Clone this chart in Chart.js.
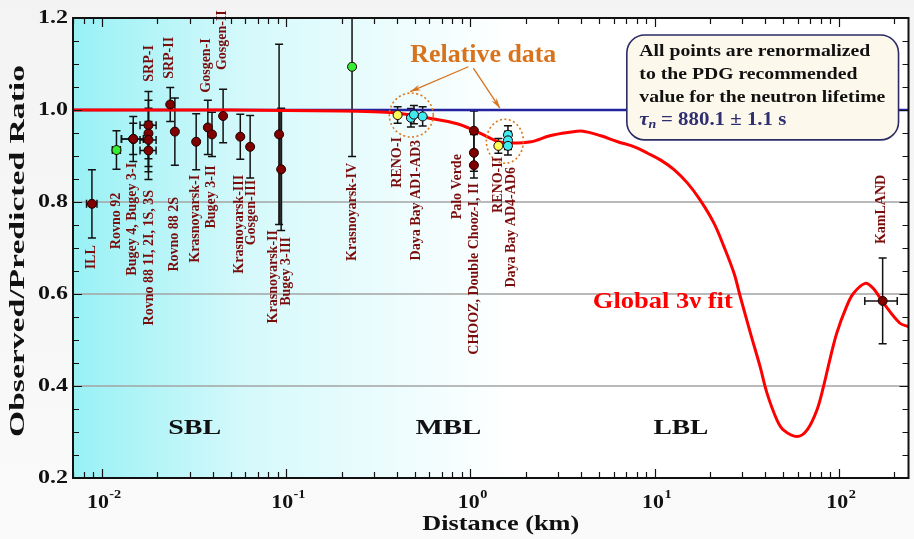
<!DOCTYPE html>
<html>
<head>
<meta charset="utf-8">
<script src="https://cdn.jsdelivr.net/npm/chart.js@4.4.1/dist/chart.umd.min.js"></script>
<style>
html, body { margin: 0; padding: 0; background: #f6f6f6; }
canvas { display: block; }
</style>
</head>
<body>
<canvas id="chart" width="914" height="539"></canvas>
<script>
// absolute flux measurements (dark red points)
const absDist  = [0.00883, 0.0148, 0.0148, 0.0179, 0.0179, 0.0179, 0.0179, 0.0235, 0.0249, 0.0325, 0.0376, 0.0396, 0.0455, 0.0564, 0.0638, 0.0916, 0.094, 1.046, 1.046, 1.046, 173];
const absRatio = [0.796, 0.937, 0.937, 0.967, 0.949, 0.935, 0.912, 1.012, 0.953, 0.931, 0.962, 0.947, 0.987, 0.942, 0.920, 0.947, 0.871, 0.955, 0.907, 0.880, 0.585];
const absErr   = [0.074, 0.034, 0.049, 0.073, 0.072, 0.069, 0.063, 0.037, 0.073, 0.061, 0.059, 0.048, 0.058, 0.049, 0.068, 0.196, 0.133, 0.043, 0.040, 0.028, 0.093];
const absXErr  = [0.065, 0.137, 0.137, 0.10, 0, 0.10, 0.10, 0, 0, 0, 0, 0, 0, 0, 0, 0, 0, 0, 0, 0, 0.20];

// Rovno 92 and Krasnoyarsk-IV (green)
const greenDist  = [0.0120, 0.228];
const greenRatio = [0.913, 1.094];
const greenErr   = [0.042, 0.195];
const greenXErr  = [0.05, 0];

// RENO relative data (yellow)
const renoDist  = [0.403, 1.42];
const renoRatio = [0.989, 0.922];
const renoErr   = [0.018, 0.016];

// Daya Bay relative data (cyan)
const dybDist  = [0.476, 0.494, 0.551, 1.60, 1.60, 1.60];
const dybRatio = [0.983, 0.990, 0.986, 0.946, 0.934, 0.922];
const dybErr   = [0.020, 0.020, 0.021, 0.020, 0.020, 0.020];

// global 3nu fit curve
const fitDist  = [0.00697, 0.05, 0.1, 0.2, 0.3, 0.408, 0.6, 0.848, 1.03, 1.25, 1.42, 1.67, 2.14, 2.7, 3.39, 4.08, 5.11, 6.31, 7.77, 9.17, 10.8, 12.8, 15.1, 17.7, 21.0, 23.8, 27.0, 29.2, 33.2, 37.4, 40.8, 46.2, 50.2, 59.3, 67.2, 76.1, 82.6, 89.4, 97.5, 110, 120, 139, 154, 175, 214, 239];
const fitRatio = [1.0, 1.0, 0.999, 0.998, 0.996, 0.993, 0.982, 0.970, 0.957, 0.941, 0.931, 0.928, 0.931, 0.944, 0.951, 0.954, 0.944, 0.931, 0.920, 0.906, 0.891, 0.870, 0.841, 0.804, 0.754, 0.703, 0.645, 0.594, 0.514, 0.442, 0.384, 0.326, 0.304, 0.290, 0.304, 0.348, 0.399, 0.457, 0.515, 0.572, 0.601, 0.623, 0.612, 0.580, 0.537, 0.529];

// experiment labels (vertical text), x in km, top of text in ratio units
const labelText = ['ILL', 'Rovno 92', 'Bugey 4, Bugey 3-I', 'Rovno 88 1I, 2I, 1S, 3S', 'SRP-I', 'SRP-II', 'Rovno 88 2S',
  'Krasnoyarsk-I', 'Gosgen-I', 'Gosgen-II', 'Bugey 3-II', 'Krasnoyarsk-III', 'Gosgen-III', 'Krasnoyarsk-II', 'Bugey 3-III',
  'Krasnoyarsk-IV', 'RENO-I', 'Daya Bay AD1-AD3', 'Palo Verde', 'CHOOZ, Double Chooz-I, II', 'RENO-II', 'Daya Bay AD4-AD6', 'KamLAND'];
const labelDist = [0.0088, 0.0120, 0.0147, 0.0180, 0.0180, 0.0233, 0.0248, 0.0323, 0.0370, 0.0451, 0.0394, 0.0557, 0.0647, 0.0851, 0.100,
  0.228, 0.403, 0.511, 0.846, 1.051, 1.417, 1.665, 170];
const labelTop = [0.706, 0.820, 0.885, 0.826, 1.141, 1.159, 0.811, 0.859, 1.156, 1.217, 0.880, 0.859, 0.848, 0.739, 0.724,
  0.885, 0.941, 0.935, 0.904, 0.841, 0.898, 0.876, 0.859];

const yTicks = [0.2, 0.4, 0.6, 0.8, 1.0, 1.2];
const yGrid = [0.4, 0.6, 0.8, 1.0];
const xDecades = [0.01, 0.1, 1, 10, 100];
const xExponents = ['-2', '-1', '0', '1', '2'];

const xMin = 0.00697, xMax = 239;
const serif = '"Liberation Serif", "DejaVu Serif", serif';
const labelRed = '#7a0c0c';

function pts(xs, ys) { return xs.map((x, i) => ({x: x, y: ys[i]})); }

function fitText(ctx, text, x, y, w, align) {
  const m = ctx.measureText(text).width;
  ctx.save();
  ctx.translate(x, y);
  ctx.scale(w / m, 1);
  ctx.textAlign = align || 'left';
  ctx.fillText(text, 0, 0);
  ctx.restore();
}

function vText(ctx, text, x, yTop) {
  ctx.save();
  ctx.translate(x, yTop);
  ctx.rotate(-Math.PI / 2);
  ctx.textAlign = 'right';
  ctx.textBaseline = 'middle';
  ctx.fillText(text, 0, 0);
  ctx.restore();
}

function drawErrors(ctx, xs, ys, errs, xerrs, sx, sy) {
  for (let i = 0; i < xs.length; i++) {
    const x = sx.getPixelForValue(xs[i]);
    const y0 = sy.getPixelForValue(ys[i] + errs[i]);
    const y1 = sy.getPixelForValue(ys[i] - errs[i]);
    const y = sy.getPixelForValue(ys[i]);
    ctx.beginPath();
    ctx.moveTo(x, y0); ctx.lineTo(x, y1);
    ctx.moveTo(x - 4, y0); ctx.lineTo(x + 4, y0);
    ctx.moveTo(x - 4, y1); ctx.lineTo(x + 4, y1);
    if (xerrs && xerrs[i] > 0) {
      const xa = sx.getPixelForValue(xs[i] * (1 - xerrs[i]));
      const xb = sx.getPixelForValue(xs[i] * (1 + xerrs[i]));
      ctx.moveTo(xa, y); ctx.lineTo(xb, y);
      ctx.moveTo(xa, y - 4); ctx.lineTo(xa, y + 4);
      ctx.moveTo(xb, y - 4); ctx.lineTo(xb, y + 4);
    }
    ctx.stroke();
  }
}

const decor = {
  id: 'decor',
  beforeDraw(chart) {
    const {ctx, chartArea: a} = chart;
    const sy = chart.scales.y;
    ctx.save();
    const bg = ctx.createLinearGradient(0, 0, 0, chart.height);
    bg.addColorStop(0, '#f3f3f3');
    bg.addColorStop(1, '#fafafa');
    ctx.fillStyle = bg;
    ctx.fillRect(0, 0, chart.width, chart.height);
    const g = ctx.createLinearGradient(a.left, 0, a.left + 440, 0);
    g.addColorStop(0, '#98f1f5');
    g.addColorStop(0.4, '#d6f9fb');
    g.addColorStop(1, '#ffffff');
    ctx.fillStyle = g;
    ctx.fillRect(a.left, a.top, a.right - a.left, a.bottom - a.top);
    ctx.strokeStyle = '#a3a3a3';
    ctx.lineWidth = 1.5;
    yGrid.forEach(v => {
      const y = sy.getPixelForValue(v);
      ctx.beginPath(); ctx.moveTo(a.left, y); ctx.lineTo(a.right, y); ctx.stroke();
    });
    ctx.restore();
  },
  beforeDatasetsDraw(chart) {
    const {ctx, chartArea: a} = chart;
    const sx = chart.scales.x, sy = chart.scales.y;
    ctx.save();
    ctx.beginPath();
    ctx.rect(a.left, a.top, a.right - a.left, a.bottom - a.top);
    ctx.clip();
    // overlapping Krasnoyarsk-II / Bugey 3-III bars look like a thick grey bar
    ctx.strokeStyle = '#555';
    ctx.lineWidth = 4;
    const kx = sx.getPixelForValue(0.093);
    ctx.beginPath();
    ctx.moveTo(kx, sy.getPixelForValue(1.004));
    ctx.lineTo(kx, sy.getPixelForValue(0.751));
    ctx.stroke();
    ctx.strokeStyle = '#111';
    ctx.lineWidth = 1.5;
    drawErrors(ctx, absDist, absRatio, absErr, absXErr, sx, sy);
    drawErrors(ctx, greenDist, greenRatio, greenErr, greenXErr, sx, sy);
    drawErrors(ctx, renoDist, renoRatio, renoErr, null, sx, sy);
    drawErrors(ctx, dybDist, dybRatio, dybErr, null, sx, sy);
    ctx.restore();
  },
  afterDatasetsDraw(chart) {
    const {ctx, chartArea: a} = chart;
    const sx = chart.scales.x, sy = chart.scales.y;
    const P = (x, y) => [sx.getPixelForValue(x), sy.getPixelForValue(y)];
    ctx.save();

    // dotted circles round the relative data
    ctx.strokeStyle = '#e07818';
    ctx.lineWidth = 1.6;
    ctx.setLineDash([2, 2.5]);
    let c = P(0.478, 0.989);
    ctx.beginPath(); ctx.ellipse(c[0], c[1], 22, 22, 0, 0, 2 * Math.PI); ctx.stroke();
    c = P(1.54, 0.932);
    ctx.beginPath(); ctx.ellipse(c[0], c[1], 18.5, 22, 0, 0, 2 * Math.PI); ctx.stroke();
    ctx.setLineDash([]);

    // arrows
    ctx.strokeStyle = '#d8731c';
    ctx.fillStyle = '#d8731c';
    ctx.lineWidth = 1.3;
    [[P(0.976, 1.094), P(0.472, 1.040)], [P(1.038, 1.091), P(1.447, 1.004)]].forEach(([p0, p1]) => {
      ctx.beginPath(); ctx.moveTo(p0[0], p0[1]); ctx.lineTo(p1[0], p1[1]); ctx.stroke();
      const ang = Math.atan2(p1[1] - p0[1], p1[0] - p0[0]);
      ctx.beginPath();
      ctx.moveTo(p1[0], p1[1]);
      ctx.lineTo(p1[0] - 11 * Math.cos(ang - 0.28), p1[1] - 11 * Math.sin(ang - 0.28));
      ctx.lineTo(p1[0] - 7 * Math.cos(ang), p1[1] - 7 * Math.sin(ang));
      ctx.lineTo(p1[0] - 11 * Math.cos(ang + 0.28), p1[1] - 11 * Math.sin(ang + 0.28));
      ctx.closePath(); ctx.fill();
    });

    ctx.fillStyle = '#d8731c';
    ctx.font = 'bold 25px ' + serif;
    ctx.textBaseline = 'alphabetic';
    let t = P(1.176, 1.104);
    fitText(ctx, 'Relative data', t[0], t[1], 146, 'center');

    // info box
    const b0 = P(7.07, 1.163), b1 = P(211, 0.935);
    ctx.fillStyle = '#fdf8ec';
    ctx.strokeStyle = '#2b2b66';
    ctx.lineWidth = 1.6;
    ctx.beginPath();
    ctx.roundRect(b0[0], b0[1], b1[0] - b0[0], b1[1] - b0[1], 18);
    ctx.fill(); ctx.stroke();
    ctx.font = 'bold 17px ' + serif;
    const s = 246 / ctx.measureText('value for the neutron lifetime').width;
    const lx = b0[0] + 12.5;
    const lines = ['All points are renormalized', 'to the PDG recommended', 'value for the neutron lifetime'];
    ctx.fillStyle = '#111';
    ctx.textBaseline = 'middle';
    lines.forEach((ln, i) => {
      ctx.save(); ctx.translate(lx, b0[1] + 17 + i * 22.7); ctx.scale(s, 1); ctx.fillText(ln, 0, 0); ctx.restore();
    });
    ctx.fillStyle = '#2e2e70';
    ctx.save();
    ctx.translate(lx, b0[1] + 85);
    ctx.scale(s, 1);
    ctx.font = 'italic bold 18px ' + serif;
    ctx.fillText('\u03c4', 0, 0);
    let w = ctx.measureText('\u03c4').width;
    ctx.font = 'italic bold 12px ' + serif;
    ctx.fillText('n', w, 5);
    w += ctx.measureText('n').width + 4;
    ctx.font = 'bold 18px ' + serif;
    ctx.fillText('= 880.1 \u00b1 1.1 s', w, 0);
    ctx.restore();

    // fit label
    ctx.fillStyle = '#ff0000';
    ctx.font = 'bold 23px ' + serif;
    t = P(4.62, 0.583);
    fitText(ctx, 'Global 3\u03bd fit', t[0], t[1], 140, 'left');

    // region labels
    ctx.fillStyle = '#111';
    ctx.font = 'bold 22px ' + serif;
    [['SBL', 0.0319, 53], ['MBL', 0.760, 66], ['LBL', 13.9, 55]].forEach(([txt, d, wd]) => {
      const p = P(d, 0.3087);
      fitText(ctx, txt, p[0], p[1], wd, 'center');
    });

    // experiment labels
    ctx.fillStyle = labelRed;
    ctx.font = 'bold 14px ' + serif;
    labelText.forEach((txt, i) => {
      const p = P(labelDist[i], labelTop[i]);
      vText(ctx, txt, p[0], p[1]);
    });
    ctx.restore();
  },
  afterDraw(chart) {
    const {ctx, chartArea: a} = chart;
    const sx = chart.scales.x, sy = chart.scales.y;
    ctx.save();
    ctx.strokeStyle = '#111';
    ctx.lineWidth = 1.2;
    // x ticks, inward on bottom and top
    for (let e = -3; e <= 2; e++) {
      for (let k = 1; k <= 9; k++) {
        const v = k * Math.pow(10, e);
        if (v < xMin || v > xMax) continue;
        const x = Math.round(sx.getPixelForValue(v)) + 0.5;
        const len = k === 1 ? 9 : 6;
        ctx.beginPath();
        ctx.moveTo(x, a.bottom); ctx.lineTo(x, a.bottom - len);
        ctx.moveTo(x, a.top); ctx.lineTo(x, a.top + len);
        ctx.stroke();
      }
    }
    // y ticks every 0.05, inward on left and right
    for (let i = 0; i <= 20; i++) {
      const v = 0.2 + i * 0.05;
      const y = Math.round(sy.getPixelForValue(v)) + 0.5;
      const len = i % 4 === 0 ? 9 : 6;
      ctx.beginPath();
      ctx.moveTo(a.left, y); ctx.lineTo(a.left + len, y);
      ctx.moveTo(a.right, y); ctx.lineTo(a.right - len, y);
      ctx.stroke();
    }
    // frame
    ctx.lineWidth = 2;
    ctx.strokeRect(a.left, a.top, a.right - a.left, a.bottom - a.top);

    // tick labels
    ctx.fillStyle = '#111';
    ctx.textBaseline = 'middle';
    ctx.font = 'bold 18px ' + serif;
    yTicks.forEach(v => {
      fitText(ctx, v.toFixed(1), a.left - 5, sy.getPixelForValue(v), 30, 'right');
    });
    ctx.textBaseline = 'alphabetic';
    xDecades.forEach((v, i) => {
      const x = sx.getPixelForValue(v);
      ctx.font = 'bold 19px ' + serif;
      const w1 = ctx.measureText('10').width * 1.15;
      ctx.font = 'bold 13px ' + serif;
      const w2 = ctx.measureText(xExponents[i]).width * 1.1;
      const x0 = x - (w1 + w2) / 2 + 2;
      ctx.font = 'bold 19px ' + serif;
      fitText(ctx, '10', x0, 508, w1, 'left');
      ctx.font = 'bold 13px ' + serif;
      fitText(ctx, xExponents[i], x0 + w1 + 0.5, 498, w2, 'left');
    });

    // axis titles
    ctx.font = 'bold 21px ' + serif;
    ctx.textBaseline = 'middle';
    fitText(ctx, 'Distance (km)', (a.left + a.right) / 2 + 10, 525, 157, 'center');
    ctx.save();
    ctx.translate(19, 251);
    ctx.rotate(-Math.PI / 2);
    fitText(ctx, 'Observed/Predicted Ratio', 0, 0, 372, 'center');
    ctx.restore();
    ctx.restore();
  }
};

const pointBase = { pointRadius: 4.5, pointHoverRadius: 4.5, pointBorderWidth: 1, pointBorderColor: '#1a0000', showLine: false, clip: false };

new Chart(document.getElementById('chart'), {
  type: 'scatter',
  data: {
    datasets: [
      { data: pts([xMin, xMax], [1, 1]), showLine: true, borderColor: '#2323a0', borderWidth: 2.5, pointRadius: 0, order: 6 },
      { data: pts(fitDist, fitRatio), showLine: true, borderColor: '#ff0000', borderWidth: 3, pointRadius: 0, tension: 0.35, order: 5 },
      Object.assign({ data: pts(absDist, absRatio), backgroundColor: '#800000', order: 4 }, pointBase),
      Object.assign({ data: pts(greenDist, greenRatio), backgroundColor: '#33ee33', order: 3 }, pointBase),
      Object.assign({ data: pts(renoDist, renoRatio), backgroundColor: '#ffff55', order: 2 }, pointBase),
      Object.assign({ data: pts(dybDist, dybRatio), backgroundColor: '#40eaf0', order: 1 }, pointBase)
    ]
  },
  options: {
    responsive: false,
    animation: false,
    layout: { padding: { left: 73, top: 18, right: 2, bottom: 61 } },
    plugins: { legend: { display: false }, tooltip: { enabled: false } },
    scales: {
      x: { type: 'logarithmic', min: xMin, max: xMax, display: false },
      y: { type: 'linear', min: 0.2, max: 1.2, display: false }
    }
  },
  plugins: [decor]
});
</script>
</body>
</html>
